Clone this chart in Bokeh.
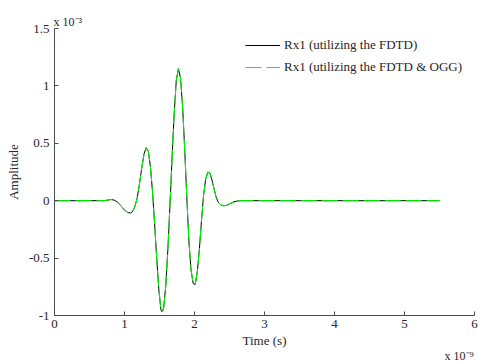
from bokeh.plotting import figure
from bokeh.models import Range1d, FixedTicker, Label, Legend, LegendItem
from bokeh.embed import file_html
from bokeh.resources import INLINE

# Time in units of 1e-9 s, amplitude in units of 1e-3
time_ns = [0.0, 0.70, 0.75, 0.80, 0.85, 0.90, 0.95, 1.00, 1.05, 1.09, 1.12, 1.15,
           1.18, 1.21, 1.25, 1.28, 1.31, 1.34, 1.37, 1.40, 1.43, 1.46, 1.49, 1.52,
           1.54, 1.56, 1.59, 1.62, 1.65, 1.68, 1.71, 1.74, 1.77, 1.80, 1.83, 1.86,
           1.89, 1.92, 1.95, 1.98, 2.01, 2.04, 2.07, 2.10, 2.13, 2.16, 2.19, 2.22,
           2.25, 2.28, 2.31, 2.34, 2.38, 2.42, 2.46, 2.50, 2.55, 2.60, 2.65, 5.50]
rx1_fdtd = [0.0, 0.0, 0.004, 0.010, 0.006, -0.012, -0.045, -0.082, -0.104, -0.107,
            -0.090, -0.045, 0.02, 0.13, 0.30, 0.41, 0.462, 0.43, 0.30, 0.08, -0.20,
            -0.50, -0.77, -0.95, -0.97, -0.93, -0.74, -0.42, -0.03, 0.38, 0.76, 1.05,
            1.15, 1.07, 0.82, 0.45, 0.03, -0.35, -0.60, -0.72, -0.73, -0.62, -0.42,
            -0.17, 0.05, 0.19, 0.25, 0.24, 0.18, 0.10, 0.03, -0.015, -0.038, -0.044,
            -0.040, -0.028, -0.013, -0.004, 0.0, 0.0]
rx1_fdtd_ogg = list(rx1_fdtd)

x_ticks = [0, 1, 2, 3, 4, 5, 6]
x_labels = ["0", "1", "2", "3", "4", "5", "6"]
y_ticks = [-1, -0.5, 0, 0.5, 1, 1.5]
y_labels = ["-1", "-0.5", "0", "0.5", "1", "1.5"]
y_exponent_text = "x 10\u207b\u00b3"
x_exponent_text = "x 10\u207b\u2079"

FONT = "'Liberation Serif', 'Times New Roman', Times, serif"
AX = "#4d4d4d"
TXT = "#262626"

p = figure(width=478, height=362, output_backend="svg", toolbar_location=None,
           x_range=Range1d(0, 6), y_range=Range1d(-1, 1.5),
           min_border_left=54, min_border_right=4, min_border_top=27,
           min_border_bottom=47)
p.outline_line_color = None
p.grid.visible = False
p.background_fill_color = "white"
p.border_fill_color = "white"

r1 = p.line(time_ns, rx1_fdtd, line_color="black", line_width=1)
r2 = p.line(time_ns, rx1_fdtd_ogg, line_color="#00ff00", line_width=1,
            line_dash="16 5")

p.xaxis.ticker = FixedTicker(ticks=x_ticks)
p.xaxis.major_label_overrides = dict(zip(x_ticks, x_labels))
p.yaxis.ticker = FixedTicker(ticks=y_ticks)
p.yaxis.major_label_overrides = dict(zip(y_ticks, y_labels))

for ax in (p.xaxis, p.yaxis):
    ax.axis_line_color = AX
    ax.major_tick_line_color = AX
    ax.major_tick_in = 4
    ax.major_tick_out = 0
    ax.minor_tick_line_color = None
    ax.major_label_text_font = FONT
    ax.major_label_text_font_size = "13px"
    ax.major_label_text_color = TXT
    ax.axis_label_text_font = FONT
    ax.axis_label_text_font_size = "13px"
    ax.axis_label_text_font_style = "normal"
    ax.axis_label_text_color = TXT

p.xaxis.axis_label = "Time (s)"
p.yaxis.axis_label = "Amplitude"
p.xaxis.major_label_standoff = 4
p.yaxis.major_label_standoff = 5
p.xaxis.axis_label_standoff = 2
p.yaxis.axis_label_standoff = 5

legend = Legend(items=[LegendItem(label="Rx1 (utilizing the FDTD)", renderers=[r1]),
                       LegendItem(label="Rx1 (utilizing the FDTD & OGG)", renderers=[r2])],
                location=(191, 237), padding=0, margin=0, spacing=0,
                border_line_color=None, background_fill_alpha=0,
                glyph_width=35, glyph_height=22, label_height=22,
                label_standoff=4, label_text_font=FONT,
                label_text_font_size="13px", label_text_color=TXT)
p.add_layout(legend, "center")

# exponent labels, in canvas pixels; kept in the top side panel (not clipped)
for lx, ly, txt in [(53, 21, y_exponent_text), (444, 355, x_exponent_text)]:
    p.add_layout(Label(x=lx, y=ly, x_units="canvas", y_units="canvas", text=txt,
                       text_font=FONT, text_font_size="12px",
                       text_color=TXT, text_baseline="alphabetic"), "above")

open("out.html", "w").write(file_html(p, INLINE))
